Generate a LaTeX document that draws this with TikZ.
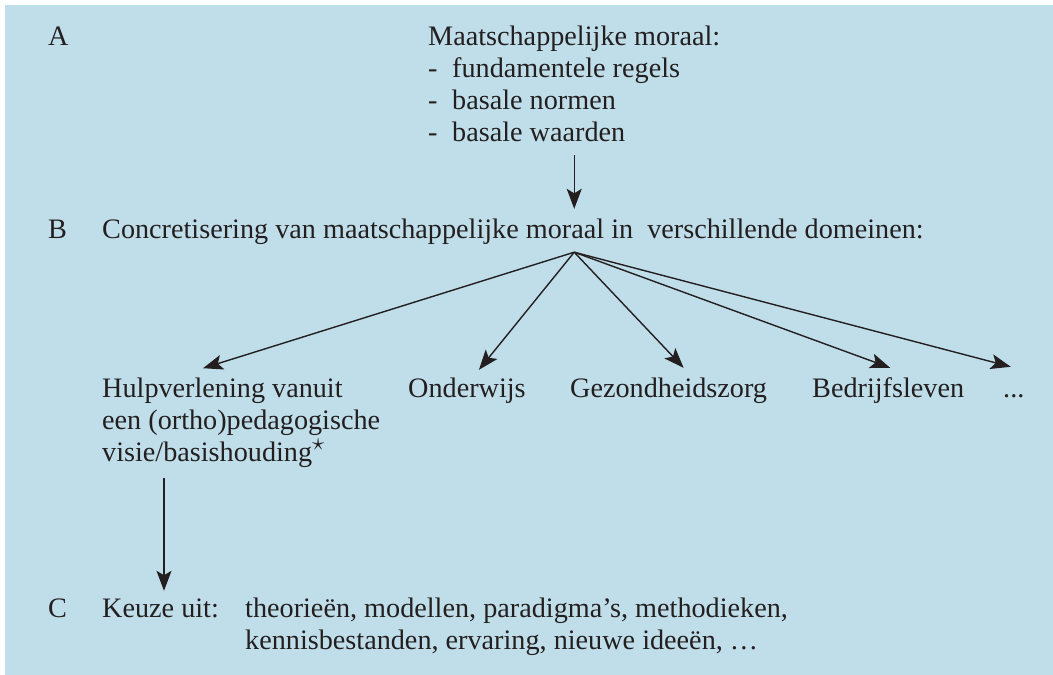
\documentclass[tikz,border=0pt]{standalone}
\usepackage{fontspec}
\setmainfont{Liberation Serif}
\usetikzlibrary{arrows.meta,calc}
\definecolor{bg}{RGB}{192,222,233}
\definecolor{ink}{RGB}{35,31,32}
\begin{document}
\begin{tikzpicture}[x=1pt,y=-1pt,
  txt/.style={inner sep=0pt, anchor=base west, font=\fontsize{28.2}{32}\selectfont, text=ink, align=left},
  one/.style={txt, text height=20pt, text depth=6pt},
  arr/.style={draw=ink, line width=1.4pt, -{Stealth[length=20pt,width=15pt,inset=4.5pt]}}]
\useasboundingbox (0,0) rectangle (1053,675);
\fill[bg] (5,5) rectangle (1053,675);
\newcommand{\dashitem}[1]{\makebox[24pt][l]{-}#1}
\newcommand{\fnstar}{\raisebox{11pt}{\fontsize{24}{24}\selectfont$\star$}}
% row A (multi-line nodes are placed at the baseline of their last line)
\node[one] (la) at (48,45) {A};
\node[txt] (mor) at (428,141) {Maatschappelijke moraal:\\\dashitem{fundamentele regels}\\\dashitem{basale normen}\\\dashitem{basale waarden}};
% row B
\node[one] (lb) at (48,238) {B};
\node[one] (conc) at (102,238) {Concretisering van maatschappelijke moraal in\ \ verschillende domeinen:};
\coordinate (apex) at ([yshift=-8pt]conc.south -| mor.south);
% domains
\node[txt] (hulp) at (102,461) {Hulpverlening vanuit\\een (ortho)pedagogische\\visie/basishouding\fnstar};
\node[one] (ond) at (408,397) {Onderwijs};
\node[one] (gez) at (570,397) {Gezondheidszorg};
\node[one] (bed) at (812,397) {Bedrijfsleven};
\node[one] (etc) at (1003,397) {...};
% row C
\node[one] (lc) at (48,617) {C};
\node[one] (keuze) at (102,617) {Keuze uit:};
\node[txt] (keus) at (245,649) {theorieën, modellen, paradigma’s, methodieken,\\kennisbestanden, ervaring, nieuwe ideeën, …};
% connectors
\draw[arr] ([yshift=-14pt]mor.south) -- ([yshift=9pt]mor.south |- conc.north);
\draw[arr] (apex) -- ([xshift=101pt,yshift=9pt]hulp.north west);
\draw[arr] (apex) -- ([xshift=12pt,yshift=7pt]ond.north);
\draw[arr] (apex) -- ([xshift=15pt,yshift=9pt]gez.north);
\draw[arr] (apex) -- ([xshift=2pt,yshift=9pt]bed.north);
\draw[arr] (apex) -- ([xshift=-3pt,yshift=10pt]etc.north);
\coordinate (down) at ([xshift=62pt]hulp.south west);
\draw[arr] ([yshift=-11pt]down) -- ([yshift=6pt]down |- keuze.north);
\end{tikzpicture}
\end{document}
